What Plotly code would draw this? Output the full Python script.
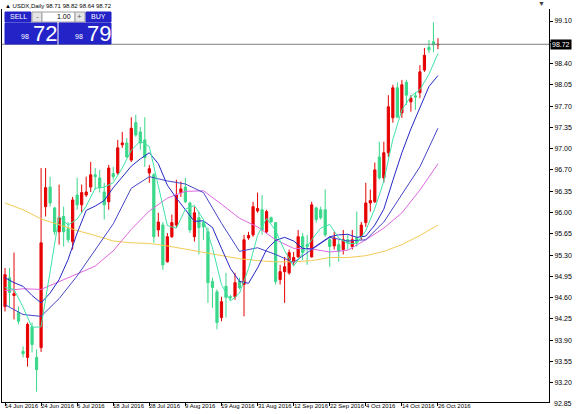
import plotly.graph_objects as go

SYMBOL = "USDX,Daily"
DATE_LABELS = ["14 Jun 2016", "24 Jun 2016", "6 Jul 2016", "18 Jul 2016", "28 Jul 2016",
               "9 Aug 2016", "19 Aug 2016", "31 Aug 2016", "12 Sep 2016", "22 Sep 2016",
               "4 Oct 2016", "14 Oct 2016", "26 Oct 2016"]
BARS_PER_LABEL = 8

# price axis labels as printed by the terminal (98.75 sits under the price tag)
PRICE_TICKS = ["99.10", "", "98.40", "98.05", "97.70", "97.35", "97.00", "96.70", "96.35",
               "96.00", "95.65", "95.30", "94.95", "94.60", "94.25", "93.90", "93.55",
               "93.20", "92.85"]

# daily bars
OPEN = [94.44, 94.91, 94.62, 94.34, 93.71, 93.61, 94.11, 93.61, 93.77, 96.07,
        96.39, 96.05, 95.66, 95.91, 95.71, 95.50, 96.26, 96.10, 96.26, 96.39,
        96.59, 96.54, 96.31, 96.15, 96.61, 96.62, 97.08, 97.11, 96.83, 97.44,
        97.29, 97.16, 96.62, 96.59, 95.69, 95.77, 95.17, 95.58, 95.77, 96.30,
        96.39, 96.13, 95.58, 95.89, 95.81, 95.66, 94.85, 94.68, 94.26, 94.77,
        94.60, 94.60, 94.85, 94.80, 95.56, 95.61, 96.00, 96.02, 95.66, 95.89,
        95.81, 94.88, 95.01, 94.99, 95.17, 95.25, 95.58, 95.45, 95.25, 96.05,
        96.02, 96.02, 95.53, 95.43, 95.45, 95.37, 95.53, 95.42, 95.56, 95.58,
        95.81, 96.13, 96.15, 96.88, 96.54, 96.95, 97.52, 98.01, 97.60, 98.10,
        97.78, 97.88, 97.93, 98.30, 98.67, 98.76, 98.71]
HIGH = [95.07, 95.07, 95.32, 94.44, 93.79, 94.18, 94.18, 93.74, 96.70, 96.70,
        96.56, 96.07, 96.43, 96.07, 95.82, 96.23, 96.54, 96.43, 96.56, 96.80,
        96.70, 96.67, 96.46, 96.75, 96.72, 97.16, 97.29, 97.19, 97.53, 97.57,
        97.37, 97.53, 96.75, 96.62, 95.97, 95.82, 95.64, 95.94, 96.51, 96.48,
        96.54, 96.15, 96.07, 95.99, 95.86, 95.73, 94.91, 94.72, 94.60, 94.99,
        94.63, 94.99, 94.91, 95.61, 95.66, 96.15, 96.30, 96.26, 96.02, 95.91,
        95.82, 95.12, 95.25, 95.37, 95.33, 95.69, 95.64, 95.61, 96.15, 96.07,
        96.07, 96.35, 95.58, 95.66, 95.53, 95.69, 95.61, 95.69, 95.99, 95.82,
        96.46, 96.35, 96.79, 97.13, 97.13, 97.89, 98.06, 98.10, 98.14, 98.14,
        97.89, 97.94, 98.38, 98.66, 98.79, 99.08, 98.82]
LOW = [94.36, 94.44, 94.23, 94.15, 93.61, 93.46, 93.69, 93.05, 93.70, 95.91,
       96.07, 95.61, 95.45, 95.42, 95.48, 95.37, 96.02, 95.97, 96.23, 96.31,
       96.35, 96.30, 95.86, 96.02, 96.51, 96.59, 97.03, 96.87, 96.80, 97.21,
       97.00, 96.72, 96.46, 95.48, 95.58, 95.04, 95.16, 95.56, 95.73, 96.23,
       96.13, 95.64, 95.50, 95.29, 95.53, 94.50, 94.42, 94.07, 94.20, 94.26,
       94.55, 94.55, 94.72, 94.28, 95.53, 95.58, 95.97, 95.61, 95.64, 95.81,
       94.80, 94.80, 94.50, 94.96, 95.12, 95.24, 95.20, 95.12, 95.24, 95.81,
       95.86, 95.58, 95.09, 95.37, 95.17, 95.29, 95.37, 95.37, 95.42, 95.53,
       95.74, 95.99, 96.13, 96.51, 96.46, 96.88, 97.44, 97.52, 97.52, 97.73,
       97.62, 97.65, 97.84, 98.27, 98.58, 98.59, 98.64]
CLOSE = [94.96, 94.67, 94.65, 94.20, 93.67, 94.15, 93.82, 93.41, 95.48, 96.38,
         96.13, 95.66, 95.89, 95.66, 95.53, 96.18, 96.10, 96.30, 96.31, 96.59,
         96.56, 96.38, 96.10, 96.70, 96.56, 97.03, 97.11, 96.88, 97.35, 97.24,
         97.11, 96.87, 96.69, 95.58, 95.82, 95.12, 95.58, 95.81, 96.26, 96.36,
         96.15, 95.69, 95.97, 95.73, 95.74, 94.83, 94.75, 94.18, 94.52, 94.59,
         94.59, 94.83, 94.75, 95.53, 95.60, 96.07, 96.04, 95.69, 95.99, 95.82,
         94.85, 95.01, 95.09, 95.32, 95.24, 95.58, 95.32, 95.42, 96.10, 95.86,
         95.89, 95.61, 95.42, 95.56, 95.34, 95.53, 95.48, 95.53, 95.48, 95.77,
         96.13, 96.17, 96.67, 96.54, 96.95, 97.70, 98.01, 97.53, 98.06, 97.89,
         97.84, 97.86, 98.27, 98.54, 98.63, 98.71, 98.72]

BID = "98.72"
ASK = "98.79"
LOT = "1.00"

# moving averages, read every 2nd bar (fast) and every 4th bar (slow)
MA_FAST = [94.75, 94.72, 94.43, 94.10, 94.11, 95.04, 95.91, 95.77, 95.87, 96.08,
           96.37, 96.39, 96.46, 96.70, 96.99, 97.14, 97.05, 96.41, 95.76, 95.72,
           96.03, 96.09, 95.86, 95.40, 94.80, 94.53, 94.66, 95.06, 95.60, 95.88,
           95.68, 95.35, 95.10, 95.31, 95.53, 95.72, 95.78, 95.56, 95.47, 95.47,
           95.68, 96.04, 96.49, 97.17, 97.65, 97.87, 97.98, 98.23, 98.57]
MA_MID = [94.91, 94.83, 94.77, 94.62, 94.50, 94.66, 94.88, 95.21, 95.64, 96.01,
          96.08, 96.17, 96.38, 96.56, 96.73, 96.85, 96.95, 96.77, 96.42, 96.21,
          96.02, 95.83, 95.84, 95.73, 95.39, 95.06, 94.85, 94.82, 95.07, 95.37,
          95.52, 95.57, 95.51, 95.39, 95.38, 95.48, 95.58, 95.61, 95.62, 95.57,
          95.59, 95.77, 96.03, 96.50, 96.95, 97.34, 97.67, 98.03, 98.21]
MA_SLOW = [94.47, 94.31, 94.28, 94.57, 94.94, 95.37, 95.79, 96.37, 96.56, 96.49,
           96.44, 96.30, 95.80, 95.34, 95.40, 95.29, 95.16, 95.37, 95.57, 95.51,
           95.53, 95.82, 96.26, 96.72, 97.35]
MA_TREND = [94.70, 94.73, 94.72, 94.85, 94.98, 95.10, 95.35, 95.70, 96.00, 96.21,
            96.32, 96.33, 96.11, 95.88, 95.74, 95.53, 95.39, 95.38, 95.33, 95.36,
            95.53, 95.72, 95.97, 96.34, 96.77]
MA_LONG = [96.13, 96.02, 95.87, 95.77, 95.68, 95.60, 95.51, 95.48, 95.47, 95.43,
           95.38, 95.32, 95.27, 95.22, 95.19, 95.17, 95.17, 95.19, 95.24, 95.24,
           95.27, 95.34, 95.45, 95.60, 95.77]

RED = "#e60000"
GREEN = "#3ad88a"
FONT = "Liberation Sans, Arial, sans-serif"

W, H = 576, 414
PLOT_L, PLOT_R, PLOT_T, PLOT_B = 2, 549, 9, 402


def px(x):
    return (x - PLOT_L) / (PLOT_R - PLOT_L)


def py(y):
    return (PLOT_B - y) / (PLOT_B - PLOT_T)


bars = list(range(len(CLOSE)))
fast_x = bars[::2]
slow_x = bars[::4]

fig = go.Figure()

fig.add_trace(go.Candlestick(
    x=bars, open=OPEN, high=HIGH, low=LOW, close=CLOSE,
    increasing=dict(line=dict(color=RED, width=1), fillcolor=RED),
    decreasing=dict(line=dict(color=GREEN, width=1), fillcolor=GREEN),
    whiskerwidth=0, showlegend=False, hoverinfo="skip"
))

for xs, ys, color in [
    (slow_x, MA_LONG, "#f2cc55"),
    (slow_x, MA_TREND, "#e066e0"),
    (slow_x, MA_SLOW, "#4646c8"),
    (fast_x, MA_MID, "#2626c8"),
    (fast_x, MA_FAST, "#3fe3a8"),
]:
    fig.add_trace(go.Scatter(x=xs, y=ys, mode="lines", line=dict(color=color, width=1),
                             showlegend=False, hoverinfo="skip"))

# current price line and tag
last = CLOSE[-1]
fig.add_hline(y=last, line=dict(color="#7f7f7f", width=1))

step = (99.10 - 92.85) / (len(PRICE_TICKS) - 1)
tick_vals = [99.10 - i * step for i in range(len(PRICE_TICKS))]
px_per_unit = (404 - 21) / (99.10 - 92.85)
y_top = 99.10 + (21 - PLOT_T) / px_per_unit
y_bot = 92.85 - (PLOT_B - 404) / px_per_unit
label_pos = [i * BARS_PER_LABEL for i in range(len(DATE_LABELS))]

annotations = []
for pos, txt in zip(label_pos, DATE_LABELS):
    annotations.append(dict(x=pos, y=0, xref="x", yref="paper", text=txt, showarrow=False,
                            xanchor="left", yanchor="top", xshift=-2, yshift=1,
                            font=dict(size=6, color="#000000", family=FONT)))

# the lowest price label sits just under the frame, outside the axis range
low_paper = (tick_vals[-1] - y_bot) / (y_top - y_bot)
annotations.append(dict(x=1, y=low_paper, xref="paper", yref="paper", text=PRICE_TICKS[-1],
                        showarrow=False, xanchor="left", yanchor="middle", xshift=3,
                        font=dict(size=7, color="#000000", family=FONT)))

annotations.append(dict(x=1, y=last, xref="paper", yref="y", text=f"{last:.2f}",
                        showarrow=False, xanchor="left", yanchor="middle", xshift=1,
                        bgcolor="#000000", font=dict(size=7, color="#ffffff", family=FONT),
                        borderpad=1))

title = "\u25B2 " + SYMBOL + " " + " ".join(f"{v:.2f}" for v in
                                          (OPEN[-1], HIGH[-1], LOW[-1], CLOSE[-1]))
annotations.append(dict(x=px(3), y=py(6), xref="paper", yref="paper", text=title,
                        showarrow=False, xanchor="left", yanchor="middle",
                        font=dict(size=6, color="#000000", family=FONT)))
annotations.append(dict(x=px(541), y=py(4), xref="paper", yref="paper", text="\u25BC",
                        showarrow=False, xanchor="center", yanchor="middle",
                        font=dict(size=7, color="#404040")))

# one-click trading panel
BLUE = "#2323c8"
shapes = [dict(type="rect", xref="paper", yref="paper", x0=px(0), x1=px(W), y0=py(H), y1=py(0),
               fillcolor="rgba(0,0,0,0)", line=dict(color="#b4b4b4", width=2), layer="above")]


def box(x0, y0, x1, y1, fill, line=None):
    shapes.append(dict(type="rect", xref="paper", yref="paper",
                       x0=px(x0), x1=px(x1), y0=py(y1), y1=py(y0),
                       fillcolor=fill, line=dict(color=line or fill, width=1), layer="above"))


box(5, 12, 31, 22, BLUE)
box(32, 12, 42, 22, "#e6e6e6", "#a0a0a0")
box(42, 12, 75, 22, "#ffffff", "#a0a0a0")
box(75, 12, 85, 22, "#e6e6e6", "#a0a0a0")
box(86, 12, 111, 22, BLUE)
box(5, 23, 57, 44, BLUE)
box(59, 23, 111, 44, BLUE)


def label(x, y, txt, size, color, anchor="center"):
    annotations.append(dict(x=px(x), y=py(y), xref="paper", yref="paper", text=txt,
                            showarrow=False, xanchor=anchor, yanchor="middle",
                            font=dict(size=size, color=color, family=FONT)))


label(18, 17, "SELL", 7, "#ffffff")
label(98, 17, "BUY", 7, "#ffffff")
label(37, 17, "-", 8, "#606060")
label(80, 17, "+", 8, "#606060")
label(73, 17, LOT, 7, "#000000", "right")
label(31, 37, BID[:2], 7, "#ffffff", "right")
label(31, 33, BID[3:], 22, "#ffffff", "left")
label(85, 37, ASK[:2], 7, "#ffffff", "right")
label(85, 33, ASK[3:], 22, "#ffffff", "left")

fig.update_layout(
    width=W, height=H,
    margin=dict(l=PLOT_L, r=W - PLOT_R, t=PLOT_T, b=H - PLOT_B, autoexpand=False),
    paper_bgcolor="#ffffff", plot_bgcolor="#ffffff",
    font=dict(family=FONT, size=7, color="#000000"),
    showlegend=False,
    annotations=annotations,
    shapes=shapes,
    xaxis=dict(range=[-(5 - PLOT_L) / 4.51, (PLOT_R - 5) / 4.51], showgrid=False,
               zeroline=False, showline=True, linecolor="#000000", linewidth=1,
               mirror=False, ticks="outside", ticklen=3, tickcolor="#000000",
               tickvals=label_pos, showticklabels=False, rangeslider=dict(visible=False),
               fixedrange=True, automargin=False),
    yaxis=dict(range=[y_bot, y_top], side="right", showgrid=False, zeroline=False,
               showline=True, linecolor="#000000", linewidth=1, mirror=True,
               ticks="outside", ticklen=3, tickcolor="#000000",
               tickvals=tick_vals, ticktext=PRICE_TICKS, tickfont=dict(size=7, family=FONT),
               fixedrange=True, automargin=False),
)

fig.write_html("out.html", post_script="document.body.style.margin='0';",
               config={"displayModeBar": False})
